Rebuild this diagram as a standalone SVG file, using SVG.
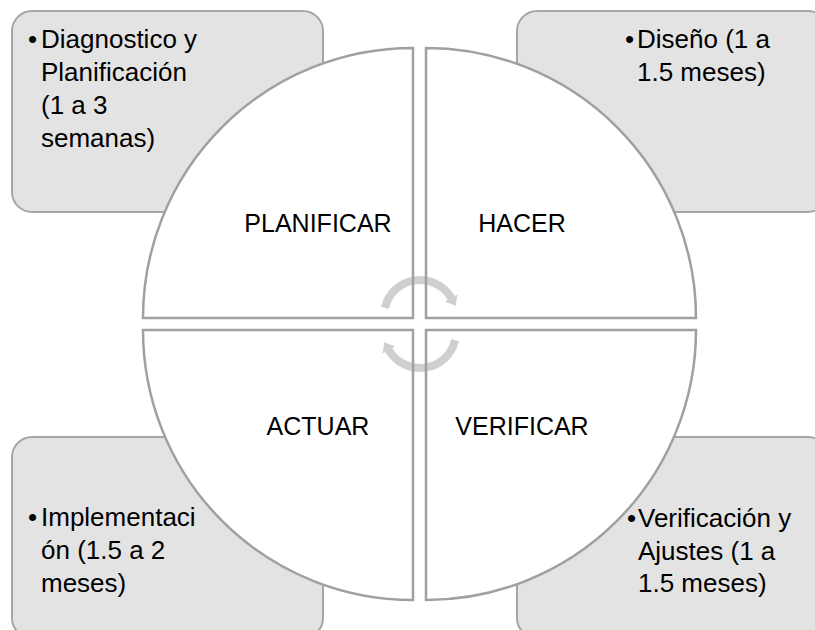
<svg xmlns="http://www.w3.org/2000/svg" width="815" height="630" viewBox="0 0 815 630">
<style>
.box{fill:#e3e3e3;stroke:#a6a6a6;stroke-width:2}
.quad{fill:#ffffff;stroke:#a0a0a0;stroke-width:2.5}
.bt{font-family:"Liberation Sans",Arial,sans-serif;font-size:26px;fill:#000}
.lbl{font-family:"Liberation Sans",Arial,sans-serif;font-size:25px;fill:#000;text-anchor:middle}
.arr{fill:none;stroke:#a0a0a0;stroke-opacity:0.5;stroke-width:8}
.head{fill:#a0a0a0;fill-opacity:0.5}
</style>
<rect width="815" height="630" fill="#ffffff"/>
<g id="box-planificar">
<rect class="box" x="12" y="11" width="311" height="201" rx="20"/>
<text class="bt" x="28" y="48">•</text>
<text class="bt" x="41" y="48">Diagnostico y</text>
<text class="bt" x="41" y="81">Planificación</text>
<text class="bt" x="41" y="114">(1 a 3</text>
<text class="bt" x="41" y="147">semanas)</text>
</g>
<g id="box-hacer">
<rect class="box" x="517" y="11" width="311" height="201" rx="20"/>
<text class="bt" x="625" y="48">•</text>
<text class="bt" x="637" y="48">Diseño (1 a</text>
<text class="bt" x="637" y="81">1.5 meses)</text>
</g>
<g id="box-actuar">
<rect class="box" x="12" y="437" width="311" height="201" rx="20"/>
<text class="bt" x="28" y="526">•</text>
<text class="bt" x="41" y="526">Implementaci</text>
<text class="bt" x="41" y="559">ón (1.5 a 2</text>
<text class="bt" x="41" y="592">meses)</text>
</g>
<g id="box-verificar">
<rect class="box" x="517" y="437" width="311" height="201" rx="20"/>
<text class="bt" x="627" y="527">•</text>
<text class="bt" x="638" y="527">Verificación y</text>
<text class="bt" x="638" y="560">Ajustes (1 a</text>
<text class="bt" x="638" y="592">1.5 meses)</text>
</g>
<g id="q-planificar">
<path class="quad" d="M413,318 L143,318 A270,270 0 0 1 413,48 Z"/>
<text class="lbl" x="318" y="232">PLANIFICAR</text>
</g>
<g id="q-hacer">
<path class="quad" d="M426,318 L426,48 A270,270 0 0 1 696,318 Z"/>
<text class="lbl" x="522" y="232">HACER</text>
</g>
<g id="q-verificar">
<path class="quad" d="M426,330 L696,330 A270,270 0 0 1 426,600 Z"/>
<text class="lbl" x="522" y="435">VERIFICAR</text>
</g>
<g id="q-actuar">
<path class="quad" d="M413,330 L413,600 A270,270 0 0 1 143,330 Z"/>
<text class="lbl" x="318" y="435">ACTUAR</text>
</g>
<g id="connectors">
<path class="arr" d="M384.9,307.9 A36,36 0 0 1 451.2,298"/>
<polygon class="head" points="457.3,294.5 445.1,301.5 455.7,305.8"/>
<path class="arr" d="M455.1,340.1 A36,36 0 0 1 388.8,350"/>
<polygon class="head" points="382.7,353.5 394.9,346.5 384.3,342.2"/>
</g>
</svg>
